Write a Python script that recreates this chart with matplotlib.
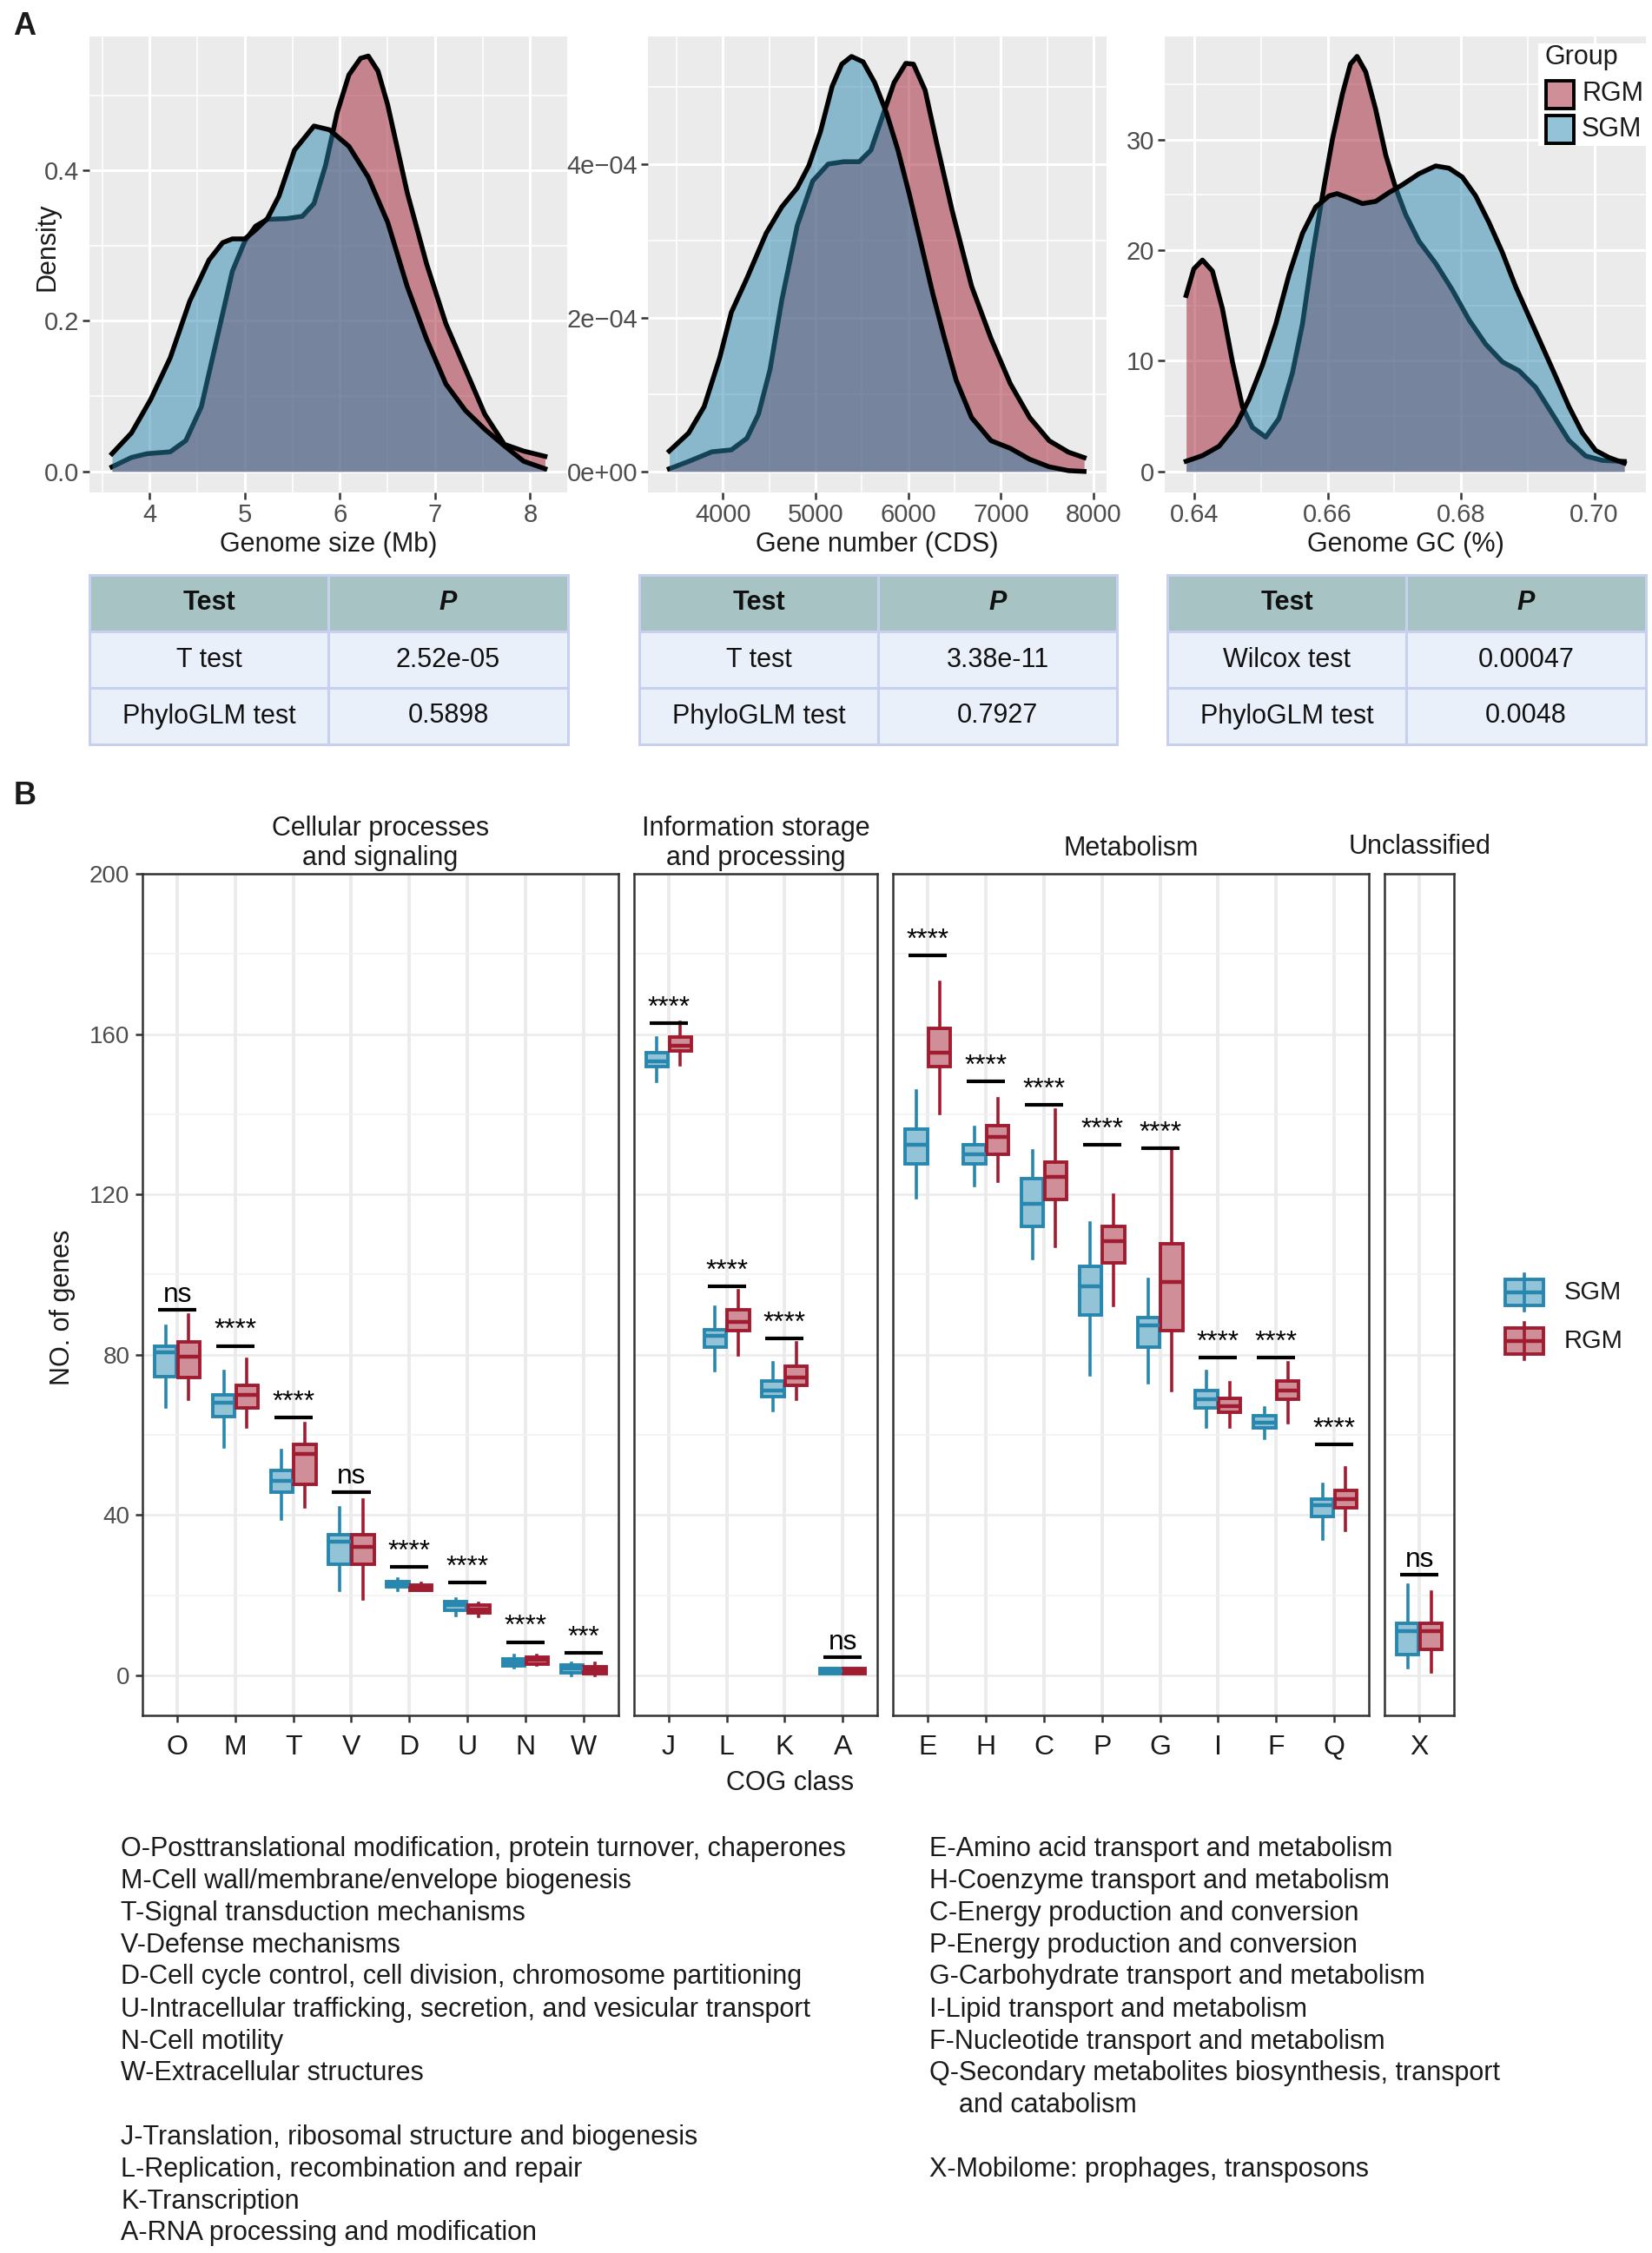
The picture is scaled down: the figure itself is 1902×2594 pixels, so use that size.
import matplotlib
matplotlib.use('Agg')
import matplotlib.pyplot as plt
from matplotlib.patches import Rectangle
from matplotlib.colors import to_rgb

plt.rcParams['font.family'] = ['Liberation Sans', 'DejaVu Sans']

# ---------------- DATA ----------------
# Panel A: density curves
gs_x_rgm = [3.604, 3.808, 3.971, 4.216, 4.380, 4.543, 4.706, 4.869, 5.0, 5.114, 5.237, 5.441, 5.604, 5.727, 5.849,
            5.971, 6.094, 6.216, 6.298, 6.400, 6.502, 6.706, 6.910, 7.114, 7.318, 7.522, 7.727, 7.931, 8.155]
gs_y_rgm = [0.006, 0.0185, 0.0235, 0.026, 0.041, 0.086, 0.176, 0.266, 0.306, 0.326, 0.335, 0.336, 0.339, 0.356, 0.407,
            0.477, 0.527, 0.549, 0.552, 0.532, 0.487, 0.371, 0.276, 0.196, 0.136, 0.076, 0.036, 0.027, 0.020]
gs_x_sgm = [3.604, 3.808, 4.012, 4.216, 4.420, 4.624, 4.767, 4.869, 5.0, 5.114, 5.237, 5.359, 5.522, 5.727, 5.890,
            6.094, 6.298, 6.502, 6.706, 6.910, 7.114, 7.318, 7.522, 7.727, 7.931, 8.155]
gs_y_sgm = [0.0235, 0.051, 0.096, 0.151, 0.226, 0.281, 0.304, 0.309, 0.309, 0.321, 0.336, 0.366, 0.427, 0.459, 0.454,
            0.432, 0.391, 0.331, 0.246, 0.176, 0.116, 0.081, 0.056, 0.034, 0.0135, 0.0035]

gn_x_rgm = [3423, 3632, 3883, 4092, 4259, 4385, 4510, 4635, 4803, 4970, 5137, 5304, 5471, 5597, 5722, 5847, 5973,
            6056, 6182, 6307, 6474, 6683, 6892, 7101, 7310, 7519, 7728, 7896]
gn_y_rgm = [0.034, 0.13, 0.255, 0.28, 0.43, 0.745, 1.33, 2.22, 3.20, 3.78, 4.00, 4.03, 4.03, 4.18, 4.62, 5.06, 5.31,
            5.30, 4.96, 4.27, 3.39, 2.41, 1.73, 1.14, 0.70, 0.40, 0.25, 0.18]
gn_x_sgm = [3423, 3632, 3799, 3967, 4092, 4259, 4468, 4635, 4803, 4928, 5053, 5179, 5283, 5388, 5513, 5638, 5764,
            5889, 6015, 6140, 6265, 6391, 6516, 6683, 6892, 7101, 7310, 7519, 7728, 7896]
gn_y_sgm = [0.265, 0.50, 0.843, 1.48, 2.07, 2.51, 3.10, 3.44, 3.69, 3.98, 4.42, 5.01, 5.30, 5.40, 5.33, 5.06, 4.67,
            4.18, 3.59, 2.95, 2.31, 1.73, 1.19, 0.70, 0.40, 0.30, 0.157, 0.06, 0.01, 0.0]

gc_x_rgm = [0.63875, 0.6399, 0.6412, 0.6427, 0.6442, 0.6457, 0.6472, 0.6487, 0.6507, 0.6527, 0.6547, 0.6562,
            0.6577, 0.6592, 0.6607, 0.6622, 0.6634, 0.6644, 0.6657, 0.6672, 0.6687, 0.6702, 0.6717, 0.6737,
            0.6762, 0.6787, 0.6812, 0.6837, 0.6862, 0.6887, 0.6912, 0.6937, 0.6962, 0.6987, 0.7012, 0.7045]
gc_y_rgm = [15.9, 18.3, 19.1, 18.1, 14.7, 9.9, 5.85, 3.98, 3.1, 4.8, 8.9, 13.3, 19.5, 24.9, 30.0, 34.1, 36.8, 37.5,
            36.1, 32.7, 28.6, 25.6, 23.2, 20.8, 18.8, 16.4, 13.7, 11.5, 9.9, 9.1, 7.6, 5.2, 2.8, 1.4, 1.0, 0.9]
gc_x_sgm = [0.63875, 0.6412, 0.6437, 0.6462, 0.6482, 0.6502, 0.6522, 0.6542, 0.6562, 0.6582, 0.6602, 0.6614,
            0.6632, 0.6652, 0.6672, 0.6692, 0.6712, 0.6737, 0.6762, 0.6782, 0.6802, 0.6822, 0.6842, 0.6862,
            0.6882, 0.6902, 0.6922, 0.6942, 0.6962, 0.6982, 0.7002, 0.7022, 0.7045]
gc_y_sgm = [0.92, 1.43, 2.28, 4.15, 6.53, 9.6, 13.3, 17.8, 21.5, 23.9, 24.9, 25.1, 24.7, 24.2, 24.4, 25.2, 25.9,
            26.9, 27.6, 27.4, 26.6, 24.9, 22.5, 19.8, 16.7, 14.0, 11.3, 8.6, 5.85, 3.5, 1.9, 1.26, 0.75]

# Panel A tables
table_tests = [['T test', 'PhyloGLM test'], ['T test', 'PhyloGLM test'], ['Wilcox test', 'PhyloGLM test']]
table_pvals = [['2.52e-05', '0.5898'], ['3.38e-11', '0.7927'], ['0.00047', '0.0048']]

# Panel B: COG classes grouped by facet
facet_titles = ['Cellular processes\nand signaling', 'Information storage\nand processing', 'Metabolism', 'Unclassified']
facet_cats = [['O', 'M', 'T', 'V', 'D', 'U', 'N', 'W'], ['J', 'L', 'K', 'A'],
              ['E', 'H', 'C', 'P', 'G', 'I', 'F', 'Q'], ['X']]
cog_order = ['O', 'M', 'T', 'V', 'D', 'U', 'N', 'W', 'J', 'L', 'K', 'A', 'E', 'H', 'C', 'P', 'G', 'I', 'F', 'Q', 'X']

sgm_lo  = [67, 57, 39, 21.1, 21.3, 15.0, 2.0, 0.0, 148.3, 76, 66, 0.3, 119.2, 122.1, 104.1, 75.0, 73.1, 62, 59.1, 33.9, 1.9]
sgm_q1  = [74.5, 64.5, 45.8, 27.8, 22.0, 16.2, 2.4, 0.6, 151.8, 81.9, 69.6, 0.3, 127.7, 127.7, 112.1, 89.8, 81.9, 66.8, 61.7, 39.7, 5.2]
sgm_med = [80.5, 68, 48.5, 33.4, 22.8, 17.5, 3.2, 1.6, 153.1, 84.7, 71.1, 1.0, 132.4, 130.0, 117.6, 97.0, 87.4, 68.8, 63.1, 42.4, 11.0]
sgm_q3  = [82.2, 70, 51.2, 35.0, 23.4, 18.3, 4.0, 2.5, 155.3, 86.2, 73.4, 1.6, 136.2, 132.3, 124.0, 102.1, 89.3, 71.1, 64.7, 44.0, 13.0]
sgm_hi  = [87, 75.8, 56, 41.8, 24.0, 19.0, 5.0, 3.0, 159, 91.9, 77.9, 1.6, 145.9, 136.7, 130.8, 112.9, 98.9, 75.8, 66.8, 47.7, 22.6]

rgm_lo  = [68.8, 62, 42, 19.1, 21.2, 14.8, 2.5, 0.0, 152.3, 80, 68.8, 0.3, 140.2, 123.2, 107, 92.2, 71.1, 62, 63.1, 36.1, 0.8]
rgm_q1  = [74.4, 66.8, 47.7, 27.8, 21.3, 15.6, 2.7, 0.3, 155.8, 85.9, 72.3, 0.3, 151.8, 129.9, 118.8, 102.9, 85.9, 65.7, 68.8, 41.7, 6.4]
rgm_med = [79.5, 70, 55.2, 32.1, 22.0, 16.5, 3.8, 1.2, 157.1, 88.2, 74.2, 1.0, 155.3, 134.3, 124.3, 108.4, 98.1, 67.1, 71.1, 44.0, 11.0]
rgm_q3  = [83.1, 72.3, 57.6, 35.0, 22.6, 17.5, 4.5, 2.2, 159.3, 91.1, 77.1, 1.6, 161.4, 137.2, 128.0, 112.1, 107.6, 69.2, 73.4, 46.1, 13.0]
rgm_hi  = [89.8, 78.9, 62.8, 43.7, 23.0, 18.0, 5.0, 3.0, 163, 95.9, 83, 1.6, 173, 143.9, 141, 119.9, 131.2, 73.1, 77.9, 51.8, 20.7]

sig_height = [91.1, 82.2, 64.4, 45.8, 27.0, 23.2, 8.3, 5.6, 162.8, 97, 84.1, 4.5, 179.7, 148.2, 142.3, 132.4, 131.5,
              79.2, 79.2, 57.6, 25.1]
sig_label = ['ns', '****', '****', 'ns', '****', '****', '****', '***', '****', '****', '****', 'ns',
             '****', '****', '****', '****', '****', '****', '****', '****', 'ns']

desc_left = ['O-Posttranslational modification, protein turnover, chaperones',
             'M-Cell wall/membrane/envelope biogenesis',
             'T-Signal transduction mechanisms',
             'V-Defense mechanisms',
             'D-Cell cycle control, cell division, chromosome partitioning',
             'U-Intracellular trafficking, secretion, and vesicular transport',
             'N-Cell motility',
             'W-Extracellular structures',
             '',
             'J-Translation, ribosomal structure and biogenesis',
             'L-Replication, recombination and repair',
             'K-Transcription',
             'A-RNA processing and modification']
desc_right = ['E-Amino acid transport and metabolism',
              'H-Coenzyme transport and metabolism',
              'C-Energy production and conversion',
              'P-Energy production and conversion',
              'G-Carbohydrate transport and metabolism',
              'I-Lipid transport and metabolism',
              'F-Nucleotide transport and metabolism',
              'Q-Secondary metabolites biosynthesis, transport',
              '    and catabolism',
              '',
              'X-Mobilome: prophages, transposons']

# ---------------- STYLE ----------------
W, H = 1902, 2594
DPI = 200
SGM_C = '#2887AE'
RGM_C = '#A01C31'


def light(c, a=0.5):
    r, g, b = to_rgb(c)
    return (1 - a + a * r, 1 - a + a * g, 1 - a + a * b)


fig = plt.figure(figsize=(W / DPI, H / DPI), dpi=DPI)


def px_axes(x0, y0, x1, y1, **kw):
    return fig.add_axes([x0 / W, 1 - y1 / H, (x1 - x0) / W, (y1 - y0) / H], **kw)


# ---------------- PANEL A ----------------
def density_panel(box, xr, yr, xs, ys, xlim, ylim, xticks, xtl, xminor, yticks, ytl, yminor):
    ax = px_axes(*box)
    ax.set_facecolor('#EBEBEB')
    for s in ax.spines.values():
        s.set_visible(False)
    ax.set_xlim(xlim)
    ax.set_ylim(ylim)
    ax.set_xticks(xticks)
    ax.set_xticklabels(xtl)
    ax.set_xticks(xminor, minor=True)
    ax.set_yticks(yticks)
    ax.set_yticklabels(ytl)
    ax.set_yticks(yminor, minor=True)
    ax.set_axisbelow(True)
    ax.grid(which='major', color='white', lw=1.1)
    ax.grid(which='minor', color='white', lw=0.55)
    ax.tick_params(which='minor', length=0)
    ax.tick_params(which='major', length=2.75, width=0.9, color='#333333', labelsize=10.5,
                   labelcolor='#4D4D4D', pad=1.5)
    ax.fill_between(xr, yr, 0, color=RGM_C, alpha=0.5, lw=0, zorder=2)
    ax.plot(xr, yr, color='black', lw=2.0, zorder=3, solid_joinstyle='round')
    ax.fill_between(xs, ys, 0, color=SGM_C, alpha=0.5, lw=0, zorder=4)
    ax.plot(xs, ys, color='black', lw=2.0, zorder=5, solid_joinstyle='round')
    return ax


density_panel((103, 42, 653, 567), gs_x_rgm, gs_y_rgm, gs_x_sgm, gs_y_sgm,
              (3.367, 8.388), (-0.028, 0.578), [4, 5, 6, 7, 8], ['4', '5', '6', '7', '8'],
              [3.5, 4.5, 5.5, 6.5, 7.5], [0, 0.2, 0.4], ['0.0', '0.2', '0.4'], [0.1, 0.3, 0.5])

density_panel((746, 42, 1274, 567), gn_x_rgm, [v * 1e-4 for v in gn_y_rgm], gn_x_sgm, [v * 1e-4 for v in gn_y_sgm],
              (3193, 8138), (-0.274e-4, 5.66e-4), [4000, 5000, 6000, 7000, 8000],
              ['4000', '5000', '6000', '7000', '8000'], [3500, 4500, 5500, 6500, 7500],
              [0, 2e-4, 4e-4], ['0e+00', '2e\u221204', '4e\u221204'], [1e-4, 3e-4, 5e-4])

density_panel((1341, 42, 1895, 567), gc_x_rgm, gc_y_rgm, gc_x_sgm, gc_y_sgm,
              (0.63554, 0.70775), (-1.9, 39.3), [0.64, 0.66, 0.68, 0.70], ['0.64', '0.66', '0.68', '0.70'],
              [0.65, 0.67, 0.69], [0, 10, 20, 30], ['0', '10', '20', '30'], [5, 15, 25, 35])

# ---------------- PANEL B ----------------
PB_TOP, PB_BOT = 1006, 1975
UNIT = 66.8
gap = 18
x0 = 164
b_axes = []
for fi, cats in enumerate(facet_cats):
    wpx = (len(cats) - 1 + 1.2) * UNIT
    ax = px_axes(x0, PB_TOP, x0 + wpx, PB_BOT)
    b_axes.append((ax, x0, x0 + wpx))
    x0 = x0 + wpx + gap

for fi, cats in enumerate(facet_cats):
    ax = b_axes[fi][0]
    ax.set_xlim(-0.6, len(cats) - 1 + 0.6)
    ax.set_ylim(-10, 200)
    ax.set_facecolor('white')
    for s in ax.spines.values():
        s.set_color('#333333')
        s.set_linewidth(0.9)
    ax.set_xticks(range(len(cats)))
    ax.set_xticklabels(cats)
    ax.set_yticks([0, 40, 80, 120, 160, 200])
    ax.set_yticks([20, 60, 100, 140, 180], minor=True)
    ax.set_axisbelow(True)
    ax.grid(axis='x', which='major', color='#EBEBEB', lw=1.4)
    ax.grid(axis='y', which='major', color='#EBEBEB', lw=0.9)
    ax.grid(axis='y', which='minor', color='#F2F2F2', lw=0.6)
    ax.tick_params(axis='x', which='major', length=2.75, width=0.9, color='#333333', labelsize=11.5,
                   labelcolor='#1A1A1A', pad=5)
    ax.tick_params(axis='y', which='minor', length=0)
    if fi == 0:
        ax.tick_params(axis='y', which='major', length=2.75, width=0.9, color='#333333', labelsize=10,
                       labelcolor='#4D4D4D', pad=2.5)
    else:
        ax.tick_params(axis='y', which='major', length=0, labelleft=False)

    sgm_stats, rgm_stats = [], []
    for c in cats:
        k = cog_order.index(c)
        sgm_stats.append(dict(med=sgm_med[k], q1=sgm_q1[k], q3=sgm_q3[k], whislo=sgm_lo[k], whishi=sgm_hi[k]))
        rgm_stats.append(dict(med=rgm_med[k], q1=rgm_q1[k], q3=rgm_q3[k], whislo=rgm_lo[k], whishi=rgm_hi[k]))
    pos = list(range(len(cats)))
    for stats, off, col in ((sgm_stats, -0.2, SGM_C), (rgm_stats, 0.2, RGM_C)):
        ax.bxp(stats, positions=[p + off for p in pos], widths=0.38, patch_artist=True, showfliers=False,
               showcaps=False, manage_ticks=False,
               boxprops=dict(facecolor=light(col, 0.5), edgecolor=col, linewidth=1.4),
               medianprops=dict(color=col, linewidth=1.6, solid_capstyle='butt'),
               whiskerprops=dict(color=col, linewidth=1.3))
    for p, c in zip(pos, cats):
        k = cog_order.index(c)
        h = sig_height[k]
        ax.plot([p - 0.33, p + 0.33], [h, h], color='black', lw=1.5, solid_capstyle='butt')
        ax.text(p, h + 2.0, sig_label[k], ha='center', va='baseline', fontsize=11.4, color='black')

# ---------------- OVERLAY (text, tables, legends) ----------------
ov = fig.add_axes([0, 0, 1, 1], zorder=10)
ov.set_xlim(0, W)
ov.set_ylim(H, 0)
ov.axis('off')
ov.patch.set_alpha(0)

ov.text(28, 30, 'A', fontsize=13, fontweight='bold', ha='center', va='center', color='#1A1A1A')
ov.text(29, 917, 'B', fontsize=13, fontweight='bold', ha='center', va='center', color='#1A1A1A')

ov.text(54, 284, 'Density', rotation=90, fontsize=11, ha='center', va='center', color='#1A1A1A')
ov.text(378, 627, 'Genome size (Mb)', fontsize=11, ha='center', va='center', color='#1A1A1A')
ov.text(1010, 627, 'Gene number (CDS)', fontsize=11, ha='center', va='center', color='#1A1A1A')
ov.text(1618, 627, 'Genome GC (%)', fontsize=11, ha='center', va='center', color='#1A1A1A')

# legend A
ov.add_patch(Rectangle((1771, 50), 124, 118, facecolor='white', edgecolor='none'))
ov.text(1778, 66, 'Group', fontsize=11, ha='left', va='center', color='#1A1A1A')
ov.add_patch(Rectangle((1780, 93), 32, 32, facecolor=light(RGM_C, 0.5), edgecolor='black', lw=1.4))
ov.add_patch(Rectangle((1780, 133), 32, 32, facecolor=light(SGM_C, 0.5), edgecolor='black', lw=1.4))
ov.text(1821, 108, 'RGM', fontsize=11, ha='left', va='center', color='#1A1A1A')
ov.text(1821, 149, 'SGM', fontsize=11, ha='left', va='center', color='#1A1A1A')

# tables
HEAD_C = '#A8C3C4'
ROW_C = '#EAF0FA'
BORDER_C = '#C8D0F0'
table_cols = [(103, 378, 654), (736, 1011, 1286), (1344, 1619, 1895)]
row_y = [662, 727, 792, 857]
for ti, (xa, xm, xb) in enumerate(table_cols):
    for ri in range(3):
        fc = HEAD_C if ri == 0 else ROW_C
        for (ca, cb) in ((xa, xm), (xm, xb)):
            ov.add_patch(Rectangle((ca, row_y[ri]), cb - ca, row_y[ri + 1] - row_y[ri], facecolor=fc,
                                   edgecolor=BORDER_C, lw=1.1))
    yc = [(row_y[i] + row_y[i + 1]) / 2 for i in range(3)]
    ov.text((xa + xm) / 2, yc[0], 'Test', fontsize=11, fontweight='bold', ha='center', va='center', color='#111111')
    ov.text((xm + xb) / 2, yc[0], 'P', fontsize=11, fontweight='bold', style='italic', ha='center', va='center',
            color='#111111')
    for ri in range(2):
        ov.text((xa + xm) / 2, yc[ri + 1], table_tests[ti][ri], fontsize=11, ha='center', va='center', color='#111111')
        ov.text((xm + xb) / 2, yc[ri + 1], table_pvals[ti][ri], fontsize=11, ha='center', va='center', color='#111111')

# facet strip titles
strip_y = [971, 971, 977, 975]
for fi, title in enumerate(facet_titles):
    _, xa, xb = b_axes[fi]
    ov.text((xa + xb) / 2, strip_y[fi], title, fontsize=11, ha='center', va='center', color='#1A1A1A',
            linespacing=1.17)

# panel B axis titles
ov.text(72, 1505, 'NO. of genes', rotation=90, fontsize=11, ha='center', va='center', color='#1A1A1A')
ov.text(910, 2053, 'COG class', fontsize=11, ha='center', va='center', color='#1A1A1A')

# legend B
for yc_, col, lab in ((1488, SGM_C, 'SGM'), (1544, RGM_C, 'RGM')):
    ov.plot([1754.5, 1754.5], [yc_ - 21, yc_ + 21], color=col, lw=1.3)
    ov.add_patch(Rectangle((1733, yc_ - 15), 44, 30, facecolor=light(col, 0.5), edgecolor=col, lw=1.4))
    ov.plot([1733, 1777], [yc_, yc_], color=col, lw=1.6, solid_capstyle='butt')
    ov.text(1801, yc_, lab, fontsize=10.5, ha='left', va='center', color='#1A1A1A')

# descriptions
left_y = [2129, 2166, 2203, 2240, 2276, 2314, 2351, 2387, None, 2461, 2498, 2535, 2571]
for s, yy in zip(desc_left, left_y):
    if s and yy is not None:
        ov.text(139, yy, s, fontsize=11, ha='left', va='center', color='#1A1A1A')
right_y = [2129, 2166, 2203, 2240, 2276, 2314, 2351, 2387, 2424, None, 2498]
for s, yy in zip(desc_right, right_y):
    if s.strip() and yy is not None:
        ov.text(1070, yy, s, fontsize=11, ha='left', va='center', color='#1A1A1A')

fig.savefig('out.png', dpi=DPI)
